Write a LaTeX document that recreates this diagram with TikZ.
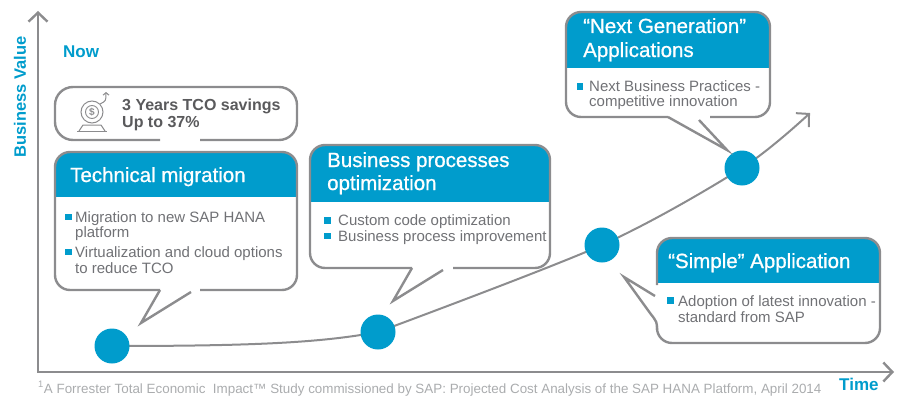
\documentclass[tikz,border=0pt]{standalone}
\usepackage{fontspec}
\setmainfont{Liberation Sans}
\newfontfamily\medfont[FakeBold=0.8]{Liberation Sans}
\usetikzlibrary{arrows.meta}
\definecolor{sapblue}{RGB}{0,156,204}
\definecolor{lgray}{RGB}{140,140,142}
\definecolor{tgray}{RGB}{112,113,117}
\definecolor{dgray}{RGB}{90,90,92}
\definecolor{fgray}{RGB}{170,172,174}
\tikzset{barb/.tip={Straight Barb[length=9pt,width=19pt]}}
\begin{document}
\begin{tikzpicture}[x=1pt,y=-1pt,
 bd/.style={draw=lgray,line width=2.4pt},
 ttl/.style={text=white,font=\medfont\fontsize{20.5}{24}\selectfont,anchor=base west,inner sep=0pt},
 btx/.style={text=tgray,font=\fontsize{15}{16}\selectfont,anchor=base west,inner sep=0pt},
 sq/.style={fill=sapblue,minimum size=6.5pt,inner sep=0pt},
 dot/.style={circle,fill=sapblue,minimum size=35pt,inner sep=0pt},
 axl/.style={text=sapblue,font=\bfseries\fontsize{17}{20}\selectfont,inner sep=0pt},
 tco/.style={text=dgray,font=\bfseries\fontsize{16}{18}\selectfont,anchor=base west,inner sep=0pt}
]
\useasboundingbox (0,0) rectangle (901,396);

% axes
\coordinate (O) at (38,372);
\coordinate (ytop) at (38,11);
\coordinate (xend) at (894,372);
\draw[lgray,line width=2.4pt,barb-barb] (ytop) -- (O) -- (xend);

% curve
\coordinate (p1) at (112,346);
\coordinate (p2) at (378,332);
\coordinate (p3) at (602,245);
\coordinate (p4) at (742,168);
\coordinate (aend) at (810,113);
\draw[lgray,line width=2pt] (p1) .. controls (250,346) and (320,343) .. (p2);
\draw[lgray,line width=2pt,-barb] plot[smooth,tension=0.5] coordinates {(p2) (p3) (p4) (aend)};
\node[dot] (c1) at (p1) {};
\node[dot] (c2) at (p2) {};
\node[dot] (c3) at (p3) {};
\node[dot] (c4) at (p4) {};

% labels
\node[axl,anchor=base west] (now) at (63,58) {Now};
\node[axl,anchor=base west] (time) at (839,390) {Time};
\node[axl,rotate=90,font=\bfseries\fontsize{16.5}{20}\selectfont] (bv) at (20,97) {Business Value};
\node[text=fgray,font=\fontsize{13.4}{15}\selectfont,anchor=base west,inner sep=0pt] (fn) at (38,393)
 {\textsuperscript{1}A Forrester Total Economic\ \ Impact™ Study commissioned by SAP: Projected Cost Analysis of the SAP HANA Platform, April 2014};

% TCO box
\draw[bd,rounded corners=18pt] (200,140) -- (297,140) -- (297,87) -- (55,87) -- (55,140) -- (160,140);
\node[tco] (tco1) at (122,110) {3 Years TCO savings};
\node[tco] (tco2) at (122,127) {Up to 37\%};
\draw[lgray,line width=1pt] (92,112) circle[radius=11pt];
\draw[lgray,line width=0.9pt] (92,112) circle[radius=6.5pt];
\node[text=lgray,font=\bfseries\fontsize{10}{10}\selectfont,inner sep=0pt] (dollar) at (92,112.5) {\$};
\draw[lgray,line width=1pt,-{Straight Barb[length=2.5pt,width=6pt]}] (100,104) .. controls (106,101) .. (106,92);
\draw[lgray,line width=1pt] (79,131) -- (83,125) -- (101,125) -- (105,131);
\draw[lgray,line width=1pt] (77,131) -- (107,131);

% Box 1
\begin{scope}
\clip[rounded corners=15pt] (55,152) rectangle (297,290);
\fill[sapblue] (55,152) rectangle (297,197);
\end{scope}
\draw[bd,rounded corners=15pt] (200,290) -- (297,290) -- (297,152) -- (55,152) -- (55,290) -- (160,290);
\draw[bd] (160,290) -- (141,323) -- (191,292);
\node[ttl] (t1) at (70,182) {Technical migration};
\node[sq] (s1a) at (68.5,217) {};
\node[btx] (b1a) at (75,222) {Migration to new SAP HANA};
\node[btx] (b1b) at (75,237) {platform};
\node[sq] (s1b) at (68.5,252) {};
\node[btx] (b1c) at (75,257) {Virtualization and cloud options};
\node[btx] (b1d) at (75,273) {to reduce TCO};

% Box 2
\begin{scope}
\clip[rounded corners=15pt] (310,145) rectangle (550,268);
\fill[sapblue] (310,145) rectangle (550,202);
\end{scope}
\draw[bd,rounded corners=15pt] (453,268) -- (550,268) -- (550,145) -- (310,145) -- (310,268) -- (412,268);
\draw[bd] (412,268) -- (393,301) -- (443,270);
\node[ttl] (t2a) at (327,167) {Business processes};
\node[ttl] (t2b) at (327,190) {optimization};
\node[sq] (s2a) at (327.5,220.5) {};
\node[btx] (b2a) at (338,225.5) {Custom code optimization};
\node[sq] (s2b) at (327.5,236) {};
\node[btx] (b2b) at (338,241) {Business process improvement};

% Box 3 (Next Generation)
\begin{scope}
\clip[rounded corners=15pt] (566,12) rectangle (770,117);
\fill[sapblue] (566,12) rectangle (770,68);
\end{scope}
\draw[bd,rounded corners=15pt] (710,117) -- (770,117) -- (770,12) -- (566,12) -- (566,117) -- (668,117);
\draw[bd] (668,117) -- (727,150) -- (699,120);
\node[ttl] (t3a) at (583,33) {“Next Generation”};
\node[ttl] (t3b) at (583,57) {Applications};
\node[sq] (s3a) at (580,86.5) {};
\node[btx] (b3a) at (589,91.7) {Next Business Practices -};
\node[btx] (b3b) at (589,106.7) {competitive innovation};

% Box 4 (Simple)
\begin{scope}
\clip[rounded corners=15pt] (657,238) rectangle (880,343);
\fill[sapblue] (657,238) rectangle (880,283);
\end{scope}
\draw[bd,rounded corners=15pt] (657,285) -- (657,238) -- (880,238) -- (880,343) -- (657,343) -- (657,326);
\draw[bd] (655,296) -- (624,277) -- (650,313) .. controls (657,322) .. (657,330);
\node[ttl] (t4) at (668,268) {“Simple” Application};
\node[sq] (s4a) at (670.5,300.5) {};
\node[btx] (b4a) at (678,306.7) {Adoption of latest innovation -};
\node[btx] (b4b) at (678,322.7) {standard from SAP};
\end{tikzpicture}
\end{document}
